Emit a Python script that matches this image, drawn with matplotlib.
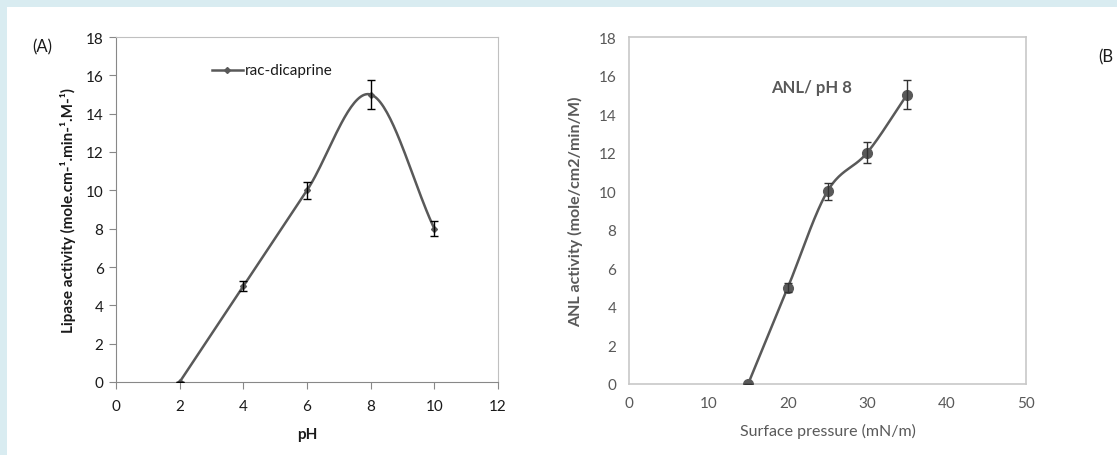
import numpy as np
import matplotlib
matplotlib.use("Agg")
import matplotlib.pyplot as plt
from matplotlib.patches import Rectangle

plt.rcParams['font.family'] = ['Lato', 'DejaVu Sans']

# === Data ===
ph = [2, 4, 6, 8, 10]
lipase = [0, 5, 10, 15, 8]
lipase_err = [0, 0.25, 0.45, 0.75, 0.4]

pressure = [15, 20, 25, 30, 35]
anl = [0, 5, 10, 12, 15]
anl_err = [0, 0.25, 0.45, 0.55, 0.75]


def smooth(xs, ys, n=40):
    # Catmull-Rom spline through the points (like Excel's smoothed line)
    p = np.column_stack([xs, ys]).astype(float)
    p = np.vstack([2 * p[0] - p[1], p, 2 * p[-1] - p[-2]])
    out = []
    t = np.linspace(0, 1, n)[:, None]
    for i in range(1, len(p) - 2):
        p0, p1, p2, p3 = p[i - 1], p[i], p[i + 1], p[i + 2]
        seg = 0.5 * ((2 * p1) + (-p0 + p2) * t + (2 * p0 - 5 * p1 + 4 * p2 - p3) * t ** 2
                     + (-p0 + 3 * p1 - 3 * p2 + p3) * t ** 3)
        out.append(seg)
    out = np.vstack(out)
    return out[:, 0], out[:, 1]


W, H = 1117, 456
fig = plt.figure(figsize=(W / 100, H / 100), dpi=100, facecolor="#d9ecf1")
fig.patches.append(Rectangle((7 / W, 0), 1, 1 - 8 / H, transform=fig.transFigure,
                             facecolor="white", edgecolor="none", zorder=-10))

line_c = "#595959"

# === Panel A ===
axA = fig.add_axes([116 / W, (H - 383) / H, 382 / W, 345 / H])
sx, sy = smooth(ph, lipase)
axA.plot(sx, sy, color=line_c, lw=1.8, zorder=3)
axA.plot(ph, lipase, ls="none", marker="D", ms=3, color=line_c, zorder=4)
axA.errorbar(ph, lipase, yerr=lipase_err, fmt="none", ecolor="black", elinewidth=1,
             capsize=3, capthick=1, zorder=5)
axA.plot([3.0, 4.0], [16.3, 16.3], color=line_c, lw=1.8)
axA.plot([3.5], [16.3], marker="D", ms=3, color=line_c)
axA.text(4.05, 16.3, "rac-dicaprine", fontsize=11, va="center", color="#1a1a1a")
axA.set_xlim(0, 12)
axA.set_ylim(0, 18)
axA.set_xticks(range(0, 13, 2))
axA.set_yticks(range(0, 19, 2))
for s in ["top", "right"]:
    axA.spines[s].set_color("#c0c0c0")
for s in ["left", "bottom"]:
    axA.spines[s].set_color("#888888")
axA.tick_params(direction="out", length=5, color="#888888", labelsize=11,
                labelcolor="#1a1a1a", pad=4)
axA.tick_params(axis="x", pad=7)
axA.set_xlabel("pH", fontsize=11, fontweight="bold", labelpad=10, color="#1a1a1a")
axA.set_ylabel("Lipase activity (mole.cm-¹.min-¹.M-¹)", fontsize=11,
               fontweight="bold", labelpad=7, color="#1a1a1a")
fig.text(32 / W, 1 - 47 / H, "(A)", fontsize=12, va="center", color="#1a1a1a")

# === Panel B ===
axB = fig.add_axes([629 / W, (H - 385) / H, 397 / W, 347 / H])
sx, sy = smooth(pressure, anl)
axB.plot(sx, sy, color=line_c, lw=1.8, zorder=3)
axB.plot(pressure, anl, ls="none", marker="o", ms=7, color=line_c, zorder=4)
axB.errorbar(pressure, anl, yerr=anl_err, fmt="none", ecolor="#333333", elinewidth=1,
             capsize=3, capthick=1, zorder=5)
axB.text(23, 15.4, "ANL/ pH 8", fontsize=12, fontweight="bold", ha="center",
         va="center", color=line_c)
axB.set_xlim(0, 50)
axB.set_ylim(0, 18)
axB.set_xticks(range(0, 51, 10))
axB.set_yticks(range(0, 19, 2))
for s in axB.spines.values():
    s.set_color("#c8c8c8")
    s.set_linewidth(1.2)
axB.tick_params(length=0, labelsize=11, labelcolor=line_c, pad=9)
axB.set_xlabel("Surface pressure (mN/m)", fontsize=11.5, labelpad=9, color=line_c)
axB.set_ylabel("ANL activity (mole/cm2/min/M)", fontsize=11.5, fontweight="bold",
               labelpad=11, color=line_c)
fig.text(1098 / W, 1 - 57 / H, "(B", fontsize=12, va="center", color="#1a1a1a")

fig.savefig("out.png", dpi=100, facecolor=fig.get_facecolor())
